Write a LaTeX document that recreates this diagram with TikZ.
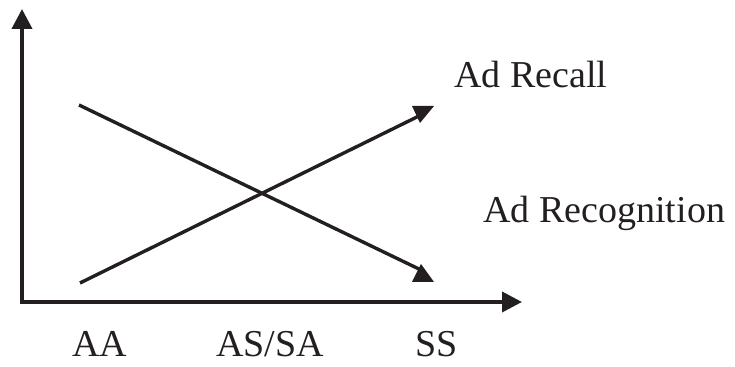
\documentclass[tikz,border=0pt]{standalone}
\usepackage{fontspec}
\setmainfont{Liberation Serif}
\usetikzlibrary{arrows.meta,positioning,calc}
\definecolor{inkline}{HTML}{231F20}

\begin{document}
\begin{tikzpicture}[
  x=0.5pt,y=-0.5pt,
  axis/.style={line width=1.9pt,draw=inkline,-{Triangle[length=10pt,width=10pt]}},
  trend/.style={line width=1.7pt,draw=inkline},
  lbl/.style={font=\fontsize{19}{22}\selectfont,text=inkline,inner sep=0pt,anchor=base}
]
\useasboundingbox (0,0) rectangle (735,367);
% axes
\coordinate (origin) at (22,302);
\coordinate (ytop) at (22,9);
\coordinate (xend) at (522,302);
\draw[axis] ($(origin)+(0,1.9)$) -- (ytop);
\draw[axis] ($(origin)+(-1.9,0)$) -- (xend);
% the two trend lines
\coordinate (recogstart) at (79,105);
\coordinate (recogend) at (421,270);
\coordinate (recallstart) at (80,283);
\coordinate (recallend) at (421,115);
\draw[trend] (recogstart) -- (recogend);
\draw[trend] (recallstart) -- (recallend);
% heads of the trend lines
\fill[inkline] ($(recallend)+(-9,-9)$) -- ++(22,0) -- ($(recallend)+(-1,8)$) -- cycle;
\fill[inkline] ($(recogend)+(-9,12)$) -- ++(22,0) -- ($(recogend)+(0,-6)$) -- cycle;
% labels
\node[lbl,anchor=base west] (recall) at (454,88) {Ad Recall};
\node[lbl,anchor=base west] (recog) at (483,223) {Ad Recognition};
\node[lbl] (aa) at (100,357) {AA};
\node[lbl] (assa) at (270,357) {AS/SA};
\node[lbl] (ss) at (437,357) {SS};
\end{tikzpicture}
\end{document}
